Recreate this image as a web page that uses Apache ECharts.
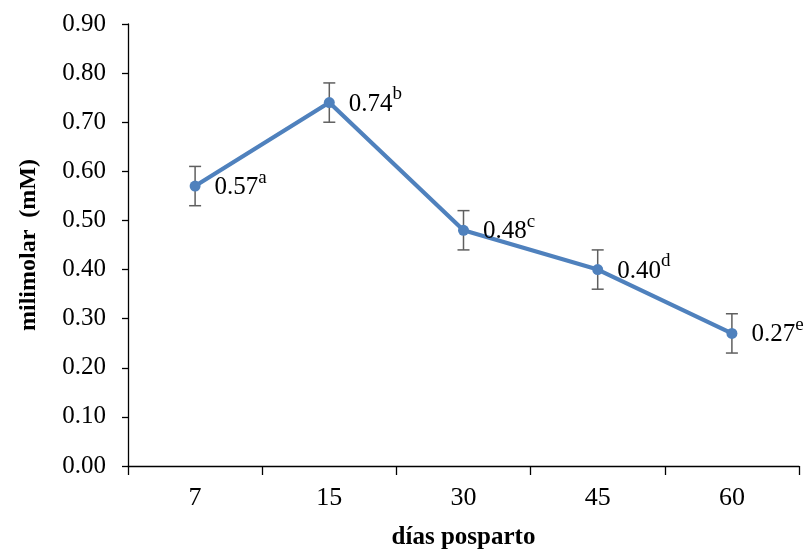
<!DOCTYPE html>
<html>
<head>
<meta charset="utf-8">
<script src="https://cdn.jsdelivr.net/npm/echarts@6/dist/echarts.min.js"></script>
<style>html,body{margin:0;padding:0;background:#fff}#c{width:812px;height:553px}</style>
</head>
<body>
<div id="c"></div>
<script>
var categories = ['7', '15', '30', '45', '60'];
var values = [0.57, 0.74, 0.48, 0.40, 0.27];
var errors = [0.04, 0.04, 0.04, 0.04, 0.04];
var letters = ['a', 'b', 'c', 'd', 'e'];

var FONT = 'Liberation Serif';
var chart = echarts.init(document.getElementById('c'));
var errData = values.map(function (v, i) { return [i, v - errors[i], v + errors[i]]; });

chart.setOption({
  animation: false,
  backgroundColor: '#fff',
  grid: { left: 128, right: 13, top: 24, bottom: 87, outerBoundsMode: 'none', containLabel: false },
  xAxis: {
    type: 'category',
    data: categories,
    boundaryGap: true,
    name: 'días posparto',
    nameLocation: 'middle',
    nameGap: 59,
    nameTextStyle: { fontFamily: FONT, fontWeight: 'bold', fontSize: 25, color: '#000' },
    axisLine: { lineStyle: { color: '#000', width: 1.3 } },
    axisTick: { show: true, alignWithLabel: false, length: 9, lineStyle: { color: '#000', width: 1.3 } },
    axisLabel: { fontFamily: FONT, fontSize: 26, color: '#000', margin: 19 },
    splitLine: { show: false }
  },
  yAxis: {
    type: 'value',
    min: 0, max: 0.9, interval: 0.1,
    name: 'milimolar  (mM)',
    nameLocation: 'middle',
    nameGap: 87,
    nameRotate: 90,
    nameTextStyle: { fontFamily: FONT, fontWeight: 'bold', fontSize: 24, color: '#000' },
    axisLine: { show: true, lineStyle: { color: '#000', width: 1.3 } },
    axisTick: { show: true, length: 6, lineStyle: { color: '#000', width: 1.3 } },
    axisLabel: { fontFamily: FONT, fontSize: 25, color: '#000', margin: 22,
      formatter: function (v) { return v.toFixed(2); } },
    splitLine: { show: false }
  },
  series: [
    {
      type: 'custom',
      z: 1,
      data: errData,
      renderItem: function (params, api) {
        var x = api.value(0);
        var lo = api.coord([x, api.value(1)]);
        var hi = api.coord([x, api.value(2)]);
        var w = 6;
        var st = { stroke: '#5f5f5f', lineWidth: 1.5 };
        return {
          type: 'group',
          children: [
            { type: 'line', shape: { x1: lo[0], y1: lo[1], x2: hi[0], y2: hi[1] }, style: st },
            { type: 'line', shape: { x1: lo[0] - w, y1: lo[1], x2: lo[0] + w, y2: lo[1] }, style: st },
            { type: 'line', shape: { x1: hi[0] - w, y1: hi[1], x2: hi[0] + w, y2: hi[1] }, style: st }
          ]
        };
      }
    },
    {
      type: 'line',
      z: 3,
      data: values,
      symbol: 'circle',
      symbolSize: 11,
      lineStyle: { color: '#4F81BD', width: 4.2 },
      itemStyle: { color: '#4F81BD' },
      label: {
        show: true,
        position: 'right',
        distance: 14,
        offset: [0, 0],
        formatter: function (p) { return '{v|' + values[p.dataIndex].toFixed(2) + '}{s|' + letters[p.dataIndex] + '}'; },
        rich: {
          v: { fontFamily: FONT, fontSize: 25, color: '#000', lineHeight: 28, verticalAlign: 'bottom' },
          s: { fontFamily: FONT, fontSize: 19, color: '#000', lineHeight: 19, verticalAlign: 'bottom', padding: [0, 0, 13, 0] }
        }
      }
    }
  ]
});
</script>
</body>
</html>
